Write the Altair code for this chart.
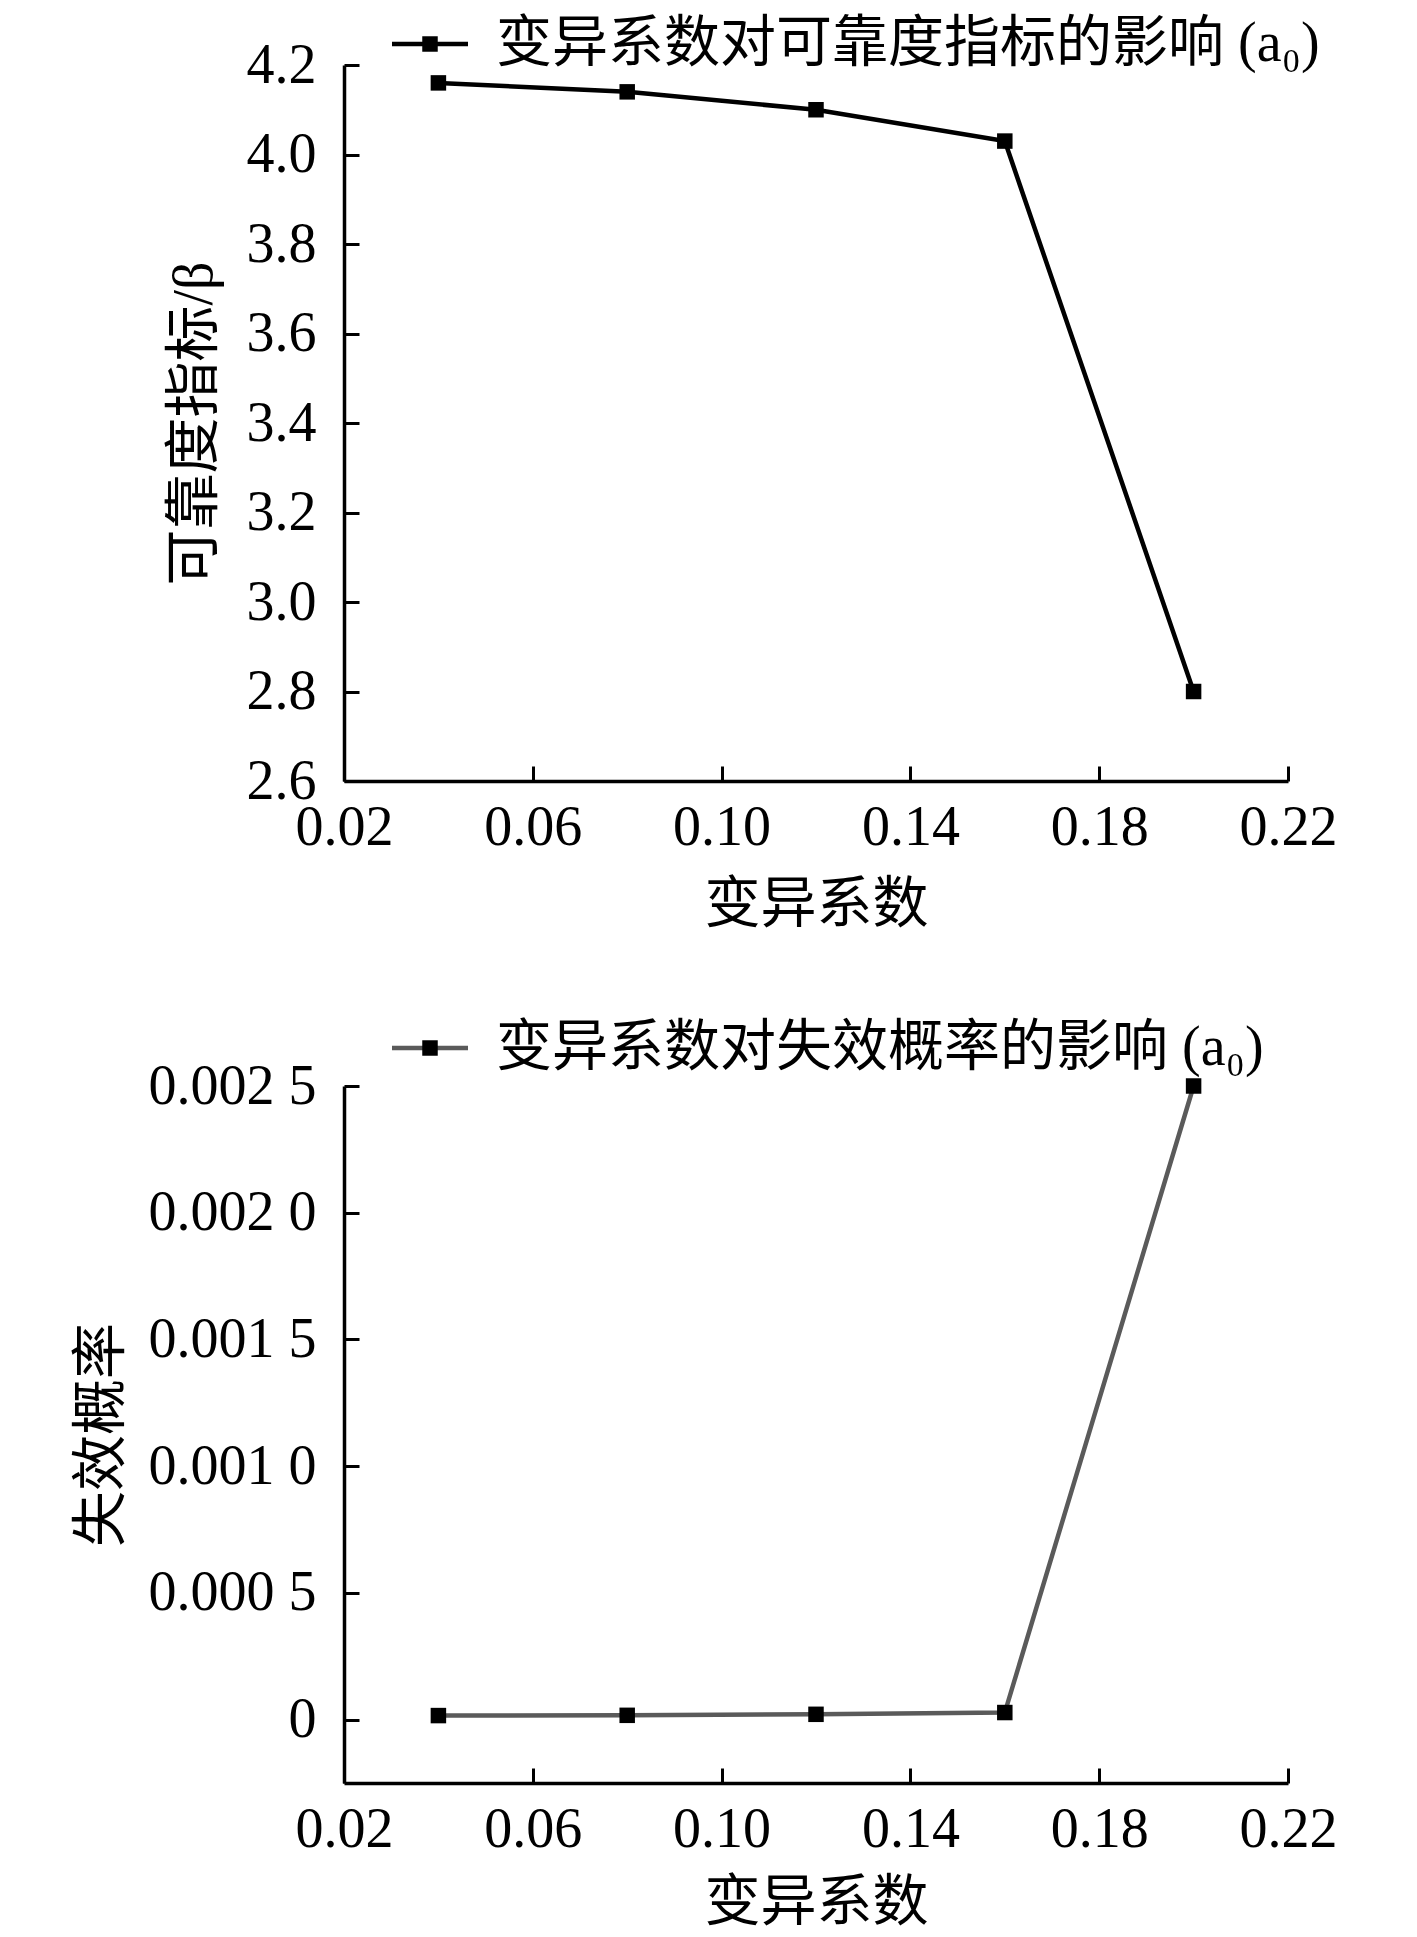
import altair as alt
import pandas as pd

# ---- data ----
cv = [0.04, 0.08, 0.12, 0.16, 0.20]
beta = [4.16, 4.14, 4.10, 4.03, 2.80]
pf = [0.000016, 0.000017, 0.000021, 0.000028, 0.0025]

x_ticks = [0.02, 0.06, 0.10, 0.14, 0.18, 0.22]
beta_ticks = [2.6, 2.8, 3.0, 3.2, 3.4, 3.6, 3.8, 4.0, 4.2]
pf_ticks = [0.0, 0.0005, 0.0010, 0.0015, 0.0020, 0.0025]

legend_top = "变异系数对可靠度指标的影响 (a₀)"
legend_bot = "变异系数对失效概率的影响 (a₀)"
x_title = "变异系数"
y_title_top = "可靠度指标/β"
y_title_bot = "失效概率"

W = 944
H_TOP = 716
H_BOT = 697

SERIF = "Liberation Serif, Times New Roman, serif"
CJK = "Liberation Serif, Noto Sans CJK SC, sans-serif"
FS = 56


def make_chart(xs, ys, y_domain, y_ticks, y_labels_expr, y_fmt, y_title, y_title_x,
               label, line_color, height, legend_y, title_y):
    df = pd.DataFrame({"x": xs, "y": ys, "s": [label] * len(xs), "s2": [label] * len(xs)})
    xs_scale = alt.Scale(domain=[0.02, 0.22], nice=False, zero=False)
    ys_scale = alt.Scale(domain=y_domain, nice=False, zero=False)

    main_x_axis = alt.Axis(
        values=x_ticks, format=".2f", title=x_title, ticks=False, tickSize=0,
        labelFont=SERIF, labelFontSize=FS, labelColor="black", labelPadding=19,
        labelFlush=False, labelOverlap=False,
        domainColor="black", domainWidth=3.5, grid=False,
        titleFont=CJK, titleFontSize=FS, titleFontWeight="normal", titleColor="black",
        titleY=title_y, titleBaseline="top",
    )
    y_axis_kwargs = dict(
        values=y_ticks, title=y_title, ticks=False, tickSize=0,
        labelFont=SERIF, labelFontSize=FS, labelColor="black", labelPadding=28,
        labelFlush=False, labelOverlap=False,
        domainColor="black", domainWidth=3.5, grid=False,
        titleFont=CJK, titleFontSize=FS, titleFontWeight="normal", titleColor="black",
        titleAngle=270, titleX=y_title_x, titleY=height / 2, titleBaseline="middle",
        titleAlign="center",
    )
    if y_labels_expr:
        y_axis_kwargs["labelExpr"] = y_labels_expr
    else:
        y_axis_kwargs["format"] = y_fmt
    main_y_axis = alt.Axis(**y_axis_kwargs)

    tick_x_axis = alt.Axis(
        orient="top", offset=-height, values=x_ticks, labels=False, domain=False,
        grid=False, title=None, ticks=True, tickSize=15, tickWidth=3, tickColor="black",
    )
    tick_y_axis = alt.Axis(
        orient="right", offset=-W, values=y_ticks, labels=False, domain=False,
        grid=False, title=None, ticks=True, tickSize=15, tickWidth=3, tickColor="black",
    )

    line = alt.Chart(df).mark_line(strokeWidth=4.5).encode(
        x=alt.X("x:Q", scale=xs_scale, axis=main_x_axis),
        y=alt.Y("y:Q", scale=ys_scale, axis=main_y_axis),
        stroke=alt.Stroke(
            "s:N", scale=alt.Scale(range=[line_color]),
            legend=alt.Legend(
                title=None, orient="none", legendX=58, legendY=legend_y,
                symbolType="M-2,0H2", symbolSize=38 * 38, symbolStrokeWidth=4.5,
                symbolStrokeColor=line_color,
                labelFont=CJK, labelFontSize=FS, labelColor="black", labelOffset=38,
                labelLimit=0, padding=0,
            ),
        ),
    )
    pts = alt.Chart(df).mark_square(size=240, opacity=1, filled=True).encode(
        x=alt.X("x:Q", scale=xs_scale, axis=tick_x_axis),
        y=alt.Y("y:Q", scale=ys_scale, axis=tick_y_axis),
        fill=alt.Fill(
            "s2:N", scale=alt.Scale(range=["black"]),
            legend=alt.Legend(
                title=None, orient="none", legendX=58, legendY=legend_y,
                symbolType="square", symbolSize=240, symbolStrokeWidth=0,
                labelExpr="''", labelOpacity=0, labelFontSize=FS, labelFont=CJK,
                padding=0,
            ),
        ),
    )
    return alt.layer(line, pts).resolve_axis(x="independent", y="independent").resolve_scale(
        stroke="independent", fill="independent"
    ).properties(width=W, height=height)


top = make_chart(
    cv, beta, [2.6, 4.2], beta_ticks, None, ".1f", y_title_top, -150,
    legend_top, "black", H_TOP, -49, 96,
)

bot_expr = "datum.value < 0.00001 ? '0' : replace(format(datum.value, '.4f'), /(\\d)$/, ' $1')"
bot = make_chart(
    cv, pf, [-0.00025, 0.0025], pf_ticks, bot_expr, None, y_title_bot, -243,
    legend_bot, "#5a5a5a", H_BOT, -66, 92,
)

chart = alt.vconcat(top, bot, spacing=88).properties(
    padding={"left": 65, "top": 8, "right": 5, "bottom": 0}
).configure(background="white").configure_view(stroke=None)

chart.save("out.html", embed_options={"renderer": "svg", "actions": False})
